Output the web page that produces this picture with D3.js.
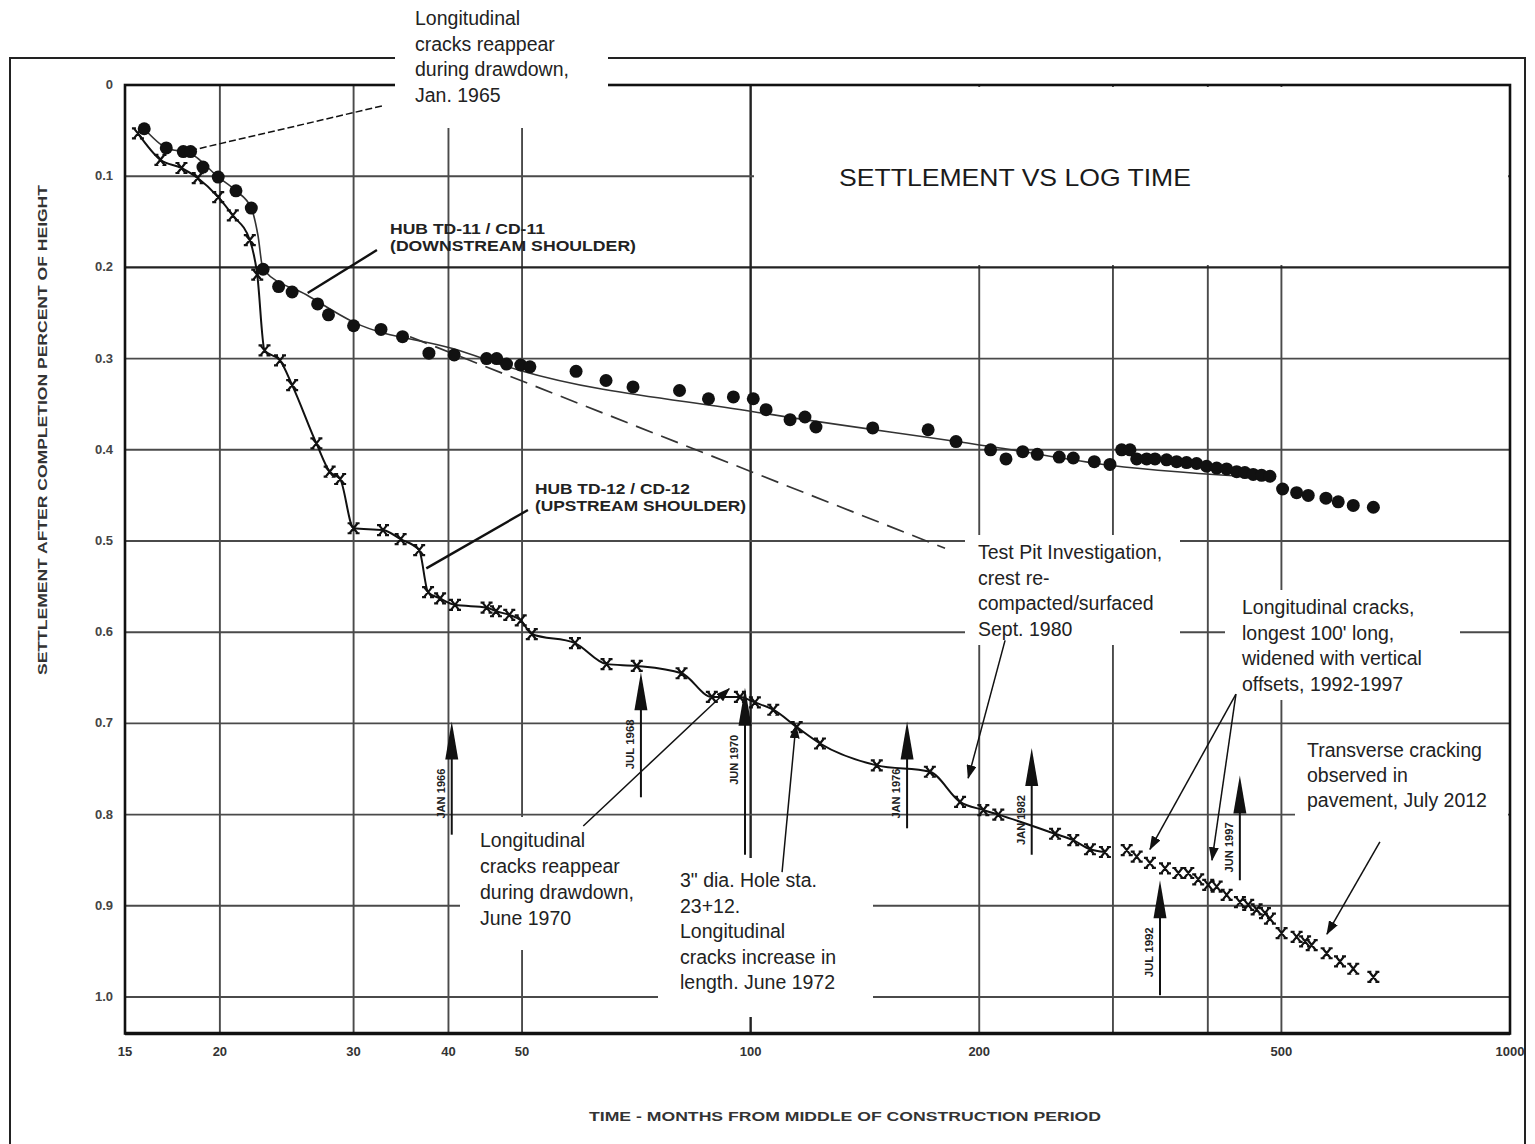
<!DOCTYPE html>
<html>
<head>
<meta charset="utf-8">
<script src="https://cdnjs.cloudflare.com/ajax/libs/d3/7.8.5/d3.min.js"></script>
<style>
  body { margin: 0; background: #fff; }
  svg text { font-family: "Liberation Sans", Arial, sans-serif; }
</style>
</head>
<body>
<svg width="1535" height="1144"></svg>
<script>
// axis ticks / grid
var xTicks = [15, 20, 30, 40, 50, 100, 200, 500, 1000];
var xGrid = [20, 30, 40, 50, 100, 200, 300, 400, 500];
var yTicks = [0, 0.1, 0.2, 0.3, 0.4, 0.5, 0.6, 0.7, 0.8, 0.9, 1.0];

// HUB TD-11 / CD-11 (downstream shoulder) - dots
var downT = [15.9, 17.0, 17.9, 18.3, 19.0, 19.9, 21.0, 22.0, 22.8, 23.9, 24.9, 26.9, 27.8, 30.0, 32.6, 34.8, 37.7, 40.7, 44.9, 46.3,
             47.7, 49.8, 51.2, 58.9, 64.5, 70.0, 80.6, 88.0, 94.9, 100.8, 104.8, 112.7, 117.9, 121.9, 144.8, 171.3, 186.4, 207.0, 216.9, 228.2,
             238.5, 254.9, 266, 283.5, 297.3, 308, 315.9, 322.4, 332.3, 340.8, 353, 363.9, 375, 386.6, 398.5, 410.9, 423.5, 436.6, 447.6, 459,
             470.8, 482.9, 501.8, 523.6, 542.4, 572.3, 594, 621.7, 660.8];
var downV = [0.048, 0.069, 0.073, 0.073, 0.090, 0.101, 0.116, 0.135, 0.202, 0.221, 0.227, 0.240, 0.252, 0.264, 0.268, 0.276, 0.294, 0.296, 0.300, 0.300,
             0.306, 0.307, 0.309, 0.314, 0.324, 0.331, 0.335, 0.344, 0.342, 0.344, 0.356, 0.367, 0.364, 0.375, 0.376, 0.378, 0.391, 0.400, 0.410, 0.402,
             0.405, 0.408, 0.409, 0.413, 0.416, 0.400, 0.400, 0.410, 0.410, 0.410, 0.411, 0.413, 0.414, 0.415, 0.418, 0.420, 0.421, 0.424, 0.425, 0.427,
             0.428, 0.429, 0.443, 0.447, 0.450, 0.453, 0.457, 0.461, 0.463];

// hand fitted curve through the dots + dashed projection
var fitT = [15.9, 17.0, 18.3, 19.9, 21.0, 22.0, 22.45, 22.8, 26.0, 30.0, 40.5, 49.7, 100.4, 213, 297, 490];
var fitV = [0.048, 0.069, 0.075, 0.101, 0.116, 0.135, 0.165, 0.202, 0.230, 0.260, 0.289, 0.313, 0.358, 0.398, 0.417, 0.431];
var dashT = [35.6, 180.3];
var dashV = [0.276, 0.508];

// HUB TD-12 / CD-12 (upstream shoulder) - crosses, first upLinked joined by a line
var upT = [15.6, 16.7, 17.8, 18.7, 19.9, 20.8, 21.9, 22.4, 22.9, 24.0, 24.9, 26.8, 27.9, 28.8, 30.0, 32.8, 34.6, 36.6, 37.6, 39.0,
           40.8, 44.9, 46.2, 48.1, 49.8, 51.5, 58.7, 64.6, 70.8, 81.1, 88.9, 96.8, 101.3, 107.1, 115, 123.4, 146.6, 172.2, 188.7, 202.5,
           211.9, 251.7, 266, 279.8, 292.8,
           312.8, 322.4, 335.6, 351.3, 365.8, 377, 388.5, 400.5, 410.9, 423.5, 440.9, 452.1, 463.8, 475.7, 482.9, 500.3, 523.6, 537.2, 548.1, 573.5,
           597.2, 621.7, 660.8];
var upV = [0.053, 0.082, 0.091, 0.102, 0.123, 0.143, 0.170, 0.208, 0.291, 0.302, 0.329, 0.393, 0.424, 0.432, 0.486, 0.488, 0.498, 0.510, 0.556, 0.563,
           0.570, 0.573, 0.577, 0.581, 0.587, 0.602, 0.612, 0.635, 0.637, 0.645, 0.671, 0.671, 0.677, 0.685, 0.704, 0.722, 0.746, 0.753, 0.786, 0.795,
           0.800, 0.821, 0.828, 0.838, 0.841,
           0.839, 0.846, 0.853, 0.859, 0.864, 0.864, 0.871, 0.877, 0.879, 0.888, 0.896, 0.899, 0.904, 0.908, 0.914, 0.930, 0.934, 0.939, 0.943, 0.952,
           0.961, 0.969, 0.978];
var upLinked = 45;

// event arrows (months, tip / tail settlement)
var evLabel = ["JAN 1966", "JUL 1968", "JUN 1970", "JAN 1976", "JAN 1982", "JUL 1992", "JUN 1997"];
var evT = [40.4, 71.7, 98.3, 160.7, 234.5, 346, 440.8];
var evTip = [0.698, 0.644, 0.661, 0.698, 0.727, 0.872, 0.757];
var evTail = [0.822, 0.781, 0.844, 0.815, 0.844, 0.998, 0.872];

var svg = d3.select("svg");

var x = d3.scaleLog().domain([15, 1000]).range([125, 1510]);
var y = d3.scaleLinear().domain([0, 1.04]).range([85, 1033.5]);

// grid
svg.append("g").selectAll("line").data(xGrid).enter().append("line")
    .attr("x1", function(d) { return x(d); }).attr("x2", function(d) { return x(d); })
    .attr("y1", y(0)).attr("y2", y(1.04))
    .attr("stroke", function(d) { return d == 100 ? "#222" : "#4a4a4a"; })
    .attr("stroke-width", function(d) { return d == 100 ? 2.4 : 1.9; });

svg.append("g").selectAll("line").data(yTicks.slice(1)).enter().append("line")
    .attr("x1", x(15)).attr("x2", x(1000))
    .attr("y1", function(d) { return y(d); }).attr("y2", function(d) { return y(d); })
    .attr("stroke", function(d) { return d == 0.2 ? "#222" : "#4a4a4a"; })
    .attr("stroke-width", function(d) { return d == 0.2 ? 2.4 : 1.9; });

// plot frame and outer frame
svg.append("rect").attr("x", x(15)).attr("y", y(0))
    .attr("width", x(1000) - x(15)).attr("height", y(1.04) - y(0))
    .attr("fill", "none").attr("stroke", "#111").attr("stroke-width", 2.6);
svg.append("line").attr("x1", x(15)).attr("x2", x(1000)).attr("y1", y(1.04)).attr("y2", y(1.04))
    .attr("stroke", "#111").attr("stroke-width", 3.6);
svg.append("rect").attr("x", 10).attr("y", 58).attr("width", 1515).attr("height", 1120)
    .attr("fill", "none").attr("stroke", "#222").attr("stroke-width", 2);

// white note boxes that blank the grid
var boxes = [
    [395, 0, 213, 128],
    [754, 87, 754, 178],
    [460, 817, 198, 133],
    [658, 858, 215, 159],
    [965, 535, 215, 110],
    [1225, 590, 235, 110],
    [1295, 735, 213, 105]
];
svg.append("g").selectAll("rect").data(boxes).enter().append("rect")
    .attr("x", function(d) { return d[0]; }).attr("y", function(d) { return d[1]; })
    .attr("width", function(d) { return d[2]; }).attr("height", function(d) { return d[3]; })
    .attr("fill", "#fff");

// arrow markers
var defs = svg.append("defs");
defs.append("marker").attr("id", "head")
    .attr("viewBox", "0 0 14 10").attr("refX", 13).attr("refY", 5)
    .attr("markerWidth", 14).attr("markerHeight", 10).attr("markerUnits", "userSpaceOnUse")
    .attr("orient", "auto")
    .append("path").attr("d", "M0,0 L14,5 L0,10 Z").attr("fill", "#111");

var line = d3.line()
    .x(function(d) { return x(d[0]); })
    .y(function(d) { return y(d[1]); })
    .curve(d3.curveMonotoneX);

// downstream fit + dashed projection
svg.append("path").datum(d3.zip(fitT, fitV)).attr("d", line)
    .attr("fill", "none").attr("stroke", "#333").attr("stroke-width", 1.6);
svg.append("path").datum(d3.zip(dashT, dashV)).attr("d", line)
    .attr("fill", "none").attr("stroke", "#333").attr("stroke-width", 1.7)
    .attr("stroke-dasharray", "18,9");

// upstream line
var upPts = d3.zip(upT, upV);
svg.append("path").datum(upPts.slice(0, upLinked)).attr("d", line)
    .attr("fill", "none").attr("stroke", "#111").attr("stroke-width", 2);

// cross markers
svg.append("g").selectAll("path").data(upPts).enter().append("path")
    .attr("transform", function(d) { return "translate(" + x(d[0]) + "," + y(d[1]) + ")"; })
    .attr("d", "M-4,-5 L4,5 M4,-5 L-4,5 M-6,-5 H-2 M2,-5 H6 M-6,5 H-2 M2,5 H6")
    .attr("fill", "none").attr("stroke", "#111").attr("stroke-width", 2.2);

// dots
svg.append("g").selectAll("circle").data(d3.zip(downT, downV)).enter().append("circle")
    .attr("cx", function(d) { return x(d[0]); })
    .attr("cy", function(d) { return y(d[1]); })
    .attr("r", 6.5)
    .attr("fill", "#111");

// event arrows
var ev = svg.append("g").selectAll("g").data(evLabel).enter().append("g");
ev.append("line")
    .attr("x1", function(d, i) { return x(evT[i]); }).attr("x2", function(d, i) { return x(evT[i]); })
    .attr("y1", function(d, i) { return y(evTail[i]); }).attr("y2", function(d, i) { return y(evTip[i]) + 20; })
    .attr("stroke", "#111").attr("stroke-width", 2);
ev.append("path")
    .attr("d", function(d, i) {
        var cx = x(evT[i]), ty = y(evTip[i]);
        return "M" + cx + "," + ty + " L" + (cx + 6.5) + "," + (ty + 38) + " L" + (cx - 6.5) + "," + (ty + 38) + " Z";
    })
    .attr("fill", "#111");
ev.append("text")
    .attr("transform", function(d, i) {
        return "translate(" + (x(evT[i]) - 7) + "," + (y(evTip[i]) + 72) + ") rotate(-90)";
    })
    .attr("text-anchor", "middle")
    .attr("font-size", 10).attr("font-weight", "bold").attr("fill", "#222")
    .attr("textLength", 50).attr("lengthAdjust", "spacingAndGlyphs")
    .text(function(d) { return d; });

// leader lines (t1, v1, t2, v2, arrow?, dash)
var leaders = [
    [18.27, 0.072, 32.7, 0.023, false, "7,3"],
    [26.1, 0.228, 32.2, 0.181, false, null],
    [37.4, 0.530, 50.9, 0.466, false, null],
    [60.2, 0.8125, 93.7, 0.662, true, null],
    [110, 0.863, 114.7, 0.702, true, null],
    [216.3, 0.609, 193.4, 0.760, true, null],
    [435.6, 0.668, 335.6, 0.838, true, null],
    [435.6, 0.668, 405.1, 0.850, true, null],
    [674, 0.830, 574, 0.931, true, null]
];
svg.append("g").selectAll("line").data(leaders).enter().append("line")
    .attr("x1", function(d) { return x(d[0]); }).attr("y1", function(d) { return y(d[1]); })
    .attr("x2", function(d) { return x(d[2]); }).attr("y2", function(d) { return y(d[3]); })
    .attr("stroke", "#111")
    .attr("stroke-width", function(d, i) { return (i == 1 || i == 2) ? 2.4 : 1.5; })
    .attr("stroke-dasharray", function(d) { return d[5]; })
    .attr("marker-end", function(d) { return d[4] ? "url(#head)" : null; });

// notes
function note(x0, y0, lines, size, lh) {
    var t = svg.append("text").attr("x", x0).attr("y", y0)
        .attr("font-size", size).attr("fill", "#222");
    lines.forEach(function(s, i) {
        t.append("tspan").attr("x", x0).attr("y", y0 + i * lh).text(s);
    });
}
note(415, 25, ["Longitudinal", "cracks reappear", "during drawdown,", "Jan. 1965"], 19.5, 25.7);
note(978, 559, ["Test Pit Investigation,", "crest re-", "compacted/surfaced", "Sept. 1980"], 19.5, 25.5);
note(1242, 614, ["Longitudinal cracks,", "longest 100' long,", "widened with vertical", "offsets, 1992-1997"], 19.5, 25.5);
note(1307, 757, ["Transverse cracking", "observed in", "pavement, July 2012"], 19.5, 25);
note(480, 847, ["Longitudinal", "cracks reappear", "during drawdown,", "June 1970"], 19.5, 26);
note(680, 887, ["3\" dia. Hole sta.", "23+12.", "Longitudinal", "cracks increase in", "length. June 1972"], 19.5, 25.5);

// series labels
function tag(x0, y0, s, w) {
    svg.append("text").attr("x", x0).attr("y", y0)
        .attr("font-size", 15).attr("font-weight", "bold").attr("fill", "#222")
        .attr("textLength", w).attr("lengthAdjust", "spacingAndGlyphs")
        .text(s);
}
tag(390, 234, "HUB TD-11 / CD-11", 155);
tag(390, 251, "(DOWNSTREAM SHOULDER)", 246);
tag(535, 494, "HUB TD-12 / CD-12", 155);
tag(535, 511, "(UPSTREAM SHOULDER)", 211);

// title
svg.append("text").attr("x", 1015).attr("y", 186).attr("text-anchor", "middle")
    .attr("font-size", 24).attr("fill", "#1a1a1a")
    .attr("textLength", 352).attr("lengthAdjust", "spacingAndGlyphs")
    .text("SETTLEMENT VS LOG TIME");

// tick labels
svg.append("g").selectAll("text").data(yTicks).enter().append("text")
    .attr("x", 113).attr("y", function(d) { return y(d) + 4; })
    .attr("text-anchor", "end").attr("font-size", 13).attr("font-weight", "bold").attr("fill", "#444")
    .text(function(d) { return d == 0 ? "0" : d3.format(".1f")(d); });

svg.append("g").selectAll("text").data(xTicks).enter().append("text")
    .attr("x", function(d) { return x(d); }).attr("y", 1056)
    .attr("text-anchor", "middle").attr("font-size", 13).attr("font-weight", "bold").attr("fill", "#333")
    .text(function(d) { return d; });

// axis titles
svg.append("text").attr("x", 845).attr("y", 1121).attr("text-anchor", "middle")
    .attr("font-size", 13).attr("font-weight", "bold").attr("fill", "#333")
    .attr("textLength", 512).attr("lengthAdjust", "spacingAndGlyphs")
    .text("TIME - MONTHS FROM MIDDLE OF CONSTRUCTION PERIOD");
svg.append("text").attr("transform", "translate(47,430) rotate(-90)").attr("text-anchor", "middle")
    .attr("font-size", 13).attr("font-weight", "bold").attr("fill", "#333")
    .attr("textLength", 490).attr("lengthAdjust", "spacingAndGlyphs")
    .text("SETTLEMENT AFTER COMPLETION PERCENT OF HEIGHT");
</script>
</body>
</html>
